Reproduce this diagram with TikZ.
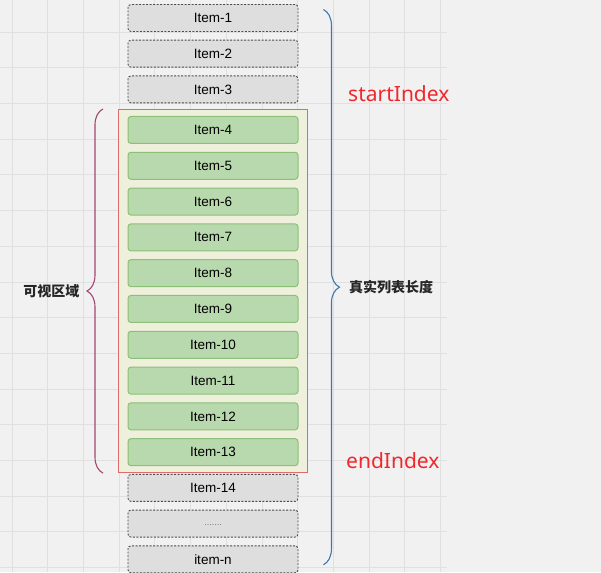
\documentclass[tikz,border=0pt]{standalone}
\usepackage{fontspec}
\setmainfont{Liberation Sans}
\newfontfamily\cjk{Noto Sans CJK SC}
\newfontfamily\idxfont{Noto Sans}
\usepackage{tikz}
\usepackage{xcolor}
\usetikzlibrary{positioning,calc,fit,backgrounds,decorations.pathreplacing}
\definecolor{bggray}{HTML}{F1F1F1}
\definecolor{gridgray}{HTML}{E0E0E0}
\definecolor{itemgray}{HTML}{DEDEDE}
\definecolor{itemgreen}{HTML}{B8D9AD}
\definecolor{greenedge}{HTML}{8CBF78}
\definecolor{viewred}{HTML}{DE6B6E}
\definecolor{viewfill}{HTML}{EEF0DC}
\definecolor{leftbrace}{HTML}{A4466F}
\definecolor{rightbrace}{HTML}{3B78B2}
\definecolor{idxred}{HTML}{F0282D}

\begin{document}
\begin{tikzpicture}[
        x=1pt, y=-1pt,
        node distance=7.8pt,
        item/.style={rectangle, rounded corners=3pt, minimum width=170pt, minimum height=27pt, inner sep=0pt, font=\fontsize{13.5}{16}\selectfont},
        olditem/.style={item, draw=black!70, fill=itemgray, line width=0.9pt, dash pattern=on 2pt off 1.5pt},
        shownitem/.style={item, draw=greenedge, fill=itemgreen, line width=1pt},
        bracket/.style={decorate, decoration={brace, amplitude=16pt}, line width=1.1pt},
        bracelabel/.style={font=\cjk\bfseries\fontsize{14}{16}\selectfont, text=black!85, inner sep=0pt},
        idx/.style={font=\idxfont\fontsize{21}{24}\selectfont, text=idxred, inner sep=0pt}
    ]
        \useasboundingbox (0,0) rectangle (601,572);

        \node[olditem] (i1) at (213,18) {Item-1};
        \node[olditem, below=of i1] (i2) {Item-2};
        \node[olditem, below=of i2] (i3) {Item-3};
        \node[shownitem, below=12.6pt of i3] (i4) {Item-4};
        \node[shownitem, below=of i4] (i5) {Item-5};
        \node[shownitem, below=of i5] (i6) {Item-6};
        \node[shownitem, below=of i6] (i7) {Item-7};
        \node[shownitem, below=of i7] (i8) {Item-8};
        \node[shownitem, below=of i8] (i9) {Item-9};
        \node[shownitem, below=of i9] (i10) {Item-10};
        \node[shownitem, below=of i10] (i11) {Item-11};
        \node[shownitem, below=of i11] (i12) {Item-12};
        \node[shownitem, below=of i12] (i13) {Item-13};
        \node[olditem, below=of i13] (i14) {Item-14};
        \node[olditem, below=of i14] (dots) {\raisebox{-3pt}{\fontsize{9}{10}\selectfont\color{black!55}.......}};
        \node[olditem, below=of dots] (itemn) {item-n};

        \begin{scope}[on background layer]
            \fill[bggray] (0,0) rectangle (601,572);
            \foreach \gx in {12,47.7,...,445} \draw[gridgray, line width=0.8pt] (\gx,0) -- (\gx,572);
            \foreach \gy in {-3.7,32,...,572} \draw[gridgray, line width=0.8pt] (0,\gy) -- (447,\gy);
            \node[fit=(i4)(i13), inner xsep=9pt, inner ysep=6.5pt, draw=viewred, fill=viewfill, line width=1pt] (view) {};
        \end{scope}

        \draw[bracket, leftbrace] ($(view.south west)+(-15,0)$) -- ($(view.north west)+(-15,0)$)
            node[midway, left=23pt, bracelabel] (vis) {可视区域};
        \draw[bracket, rightbrace] ($(i1.north east)+(25,5.5)$) -- ($(itemn.south east)+(25,-8.5)$)
            node[midway, right=25pt, bracelabel] (real) {真实列表长度};

        \node[idx, anchor=base west] (start) at (348,102) {startIndex};
        \node[idx, anchor=base west] (end) at (346,468) {endIndex};
    \end{tikzpicture}
\end{document}
